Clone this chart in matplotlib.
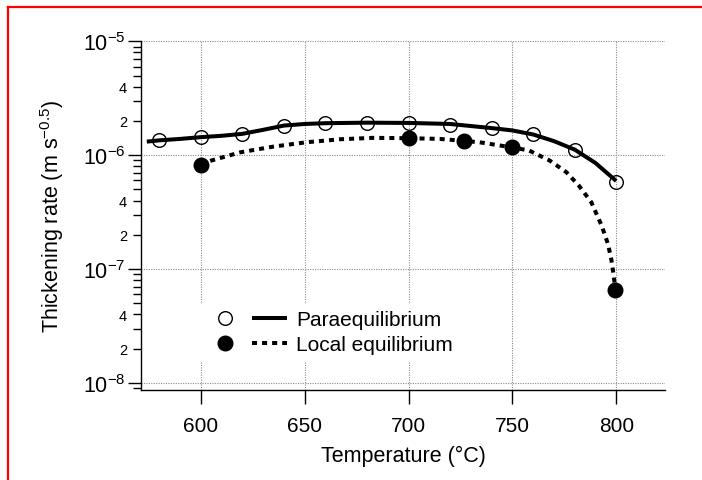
import matplotlib
matplotlib.use("Agg")
import matplotlib.pyplot as plt
from matplotlib.ticker import LogLocator, FixedLocator, FuncFormatter, NullLocator
from matplotlib.legend_handler import HandlerTuple
from matplotlib.lines import Line2D
import numpy as np

plt.rcParams['font.family'] = ['Liberation Sans', 'DejaVu Sans']
plt.rcParams['mathtext.fontset'] = 'custom'
plt.rcParams['mathtext.rm'] = 'Liberation Sans'
plt.rcParams['mathtext.it'] = 'Liberation Sans:italic'
plt.rcParams['mathtext.bf'] = 'Liberation Sans:bold'

# ---- data ----
para_T = [580, 600, 620, 640, 660, 680, 700, 720, 740, 760, 780, 800]
para_rate = [1.355e-6, 1.45e-6, 1.53e-6, 1.82e-6, 1.90e-6, 1.91e-6, 1.91e-6,
             1.85e-6, 1.73e-6, 1.53e-6, 1.12e-6, 5.8e-7]

para_fit_T = [574, 580, 590, 600, 610, 620, 630, 640, 650, 660, 680, 700, 720,
              740, 750, 760, 770, 780, 790, 800]
para_fit_rate = [1.316e-6, 1.35e-6, 1.39e-6, 1.44e-6, 1.48e-6, 1.54e-6, 1.67e-6,
                 1.82e-6, 1.88e-6, 1.91e-6, 1.93e-6, 1.92e-6, 1.88e-6, 1.73e-6,
                 1.65e-6, 1.52e-6, 1.33e-6, 1.12e-6, 8.55e-7, 5.94e-7]

local_T = [600, 700, 726.5, 750, 799.6]
local_rate = [8.28e-7, 1.41e-6, 1.33e-6, 1.17e-6, 6.49e-8]

local_fit_T = [600, 605, 619, 635, 651, 667, 683, 700, 715, 734, 750, 758, 768,
               776, 782, 788, 793, 796, 797.6, 798.8, 799.6]
local_fit_rate = [8.28e-7, 8.97e-7, 1.06e-6, 1.19e-6, 1.30e-6, 1.38e-6, 1.42e-6,
                  1.41e-6, 1.39e-6, 1.30e-6, 1.17e-6, 1.10e-6, 8.97e-7, 7.10e-7,
                  5.41e-7, 3.87e-7, 2.41e-7, 1.67e-7, 1.23e-7, 8.79e-8, 6.49e-8]

x_ticks = [600, 650, 700, 750, 800]
y_major = [1e-8, 1e-7, 1e-6, 1e-5]
y_major_labels = [r'$10^{-8}$', r'$10^{-7}$', r'$10^{-6}$', r'$10^{-5}$']

# ---- figure ----
fig = plt.figure(figsize=(7.02, 4.81), dpi=100)
ax = fig.add_axes([141/702, 1 - 391/481, (665-141)/702, (391-42.3)/481])

ax.set_yscale('log')
ax.set_xlim(571.2, 823.5)
ax.set_ylim(10**-8.0615, 1e-5)

lw = 2.9
ax.plot(para_fit_T, para_fit_rate, color='black', lw=lw, solid_capstyle='butt', zorder=3)
ax.plot(local_fit_T, local_fit_rate, color='black', lw=lw,
        linestyle=(0, (1.25, 1.25)), dash_capstyle='butt', zorder=3)
ax.plot(para_T, para_rate, linestyle='none', marker='o', ms=9.8,
        mfc='none', mec='black', mew=1.0, zorder=4)
ax.plot(local_T, local_rate, linestyle='none', marker='o', ms=10.5,
        mfc='black', mec='black', zorder=4)

# ticks
ax.xaxis.set_major_locator(FixedLocator(x_ticks))
ax.xaxis.set_minor_locator(NullLocator())
ax.yaxis.set_major_locator(FixedLocator(y_major))
ax.set_yticklabels(y_major_labels)
ax.yaxis.set_minor_locator(LogLocator(base=10, subs=np.arange(2, 10)))


def minor_fmt(v, pos):
    m = v / 10 ** np.floor(np.log10(v) + 1e-9)
    r = int(round(m))
    return str(r) if r in (2, 4) else ''


ax.yaxis.set_minor_formatter(FuncFormatter(minor_fmt))

ax.tick_params(axis='x', which='major', direction='out', length=10, width=1.0,
               labelsize=15, pad=9)
ax.tick_params(axis='y', which='major', direction='out', length=9.5, width=1.0,
               labelsize=15.5, pad=1.5)
ax.tick_params(axis='y', which='minor', direction='out', length=5.5, width=1.0,
               labelsize=10.5, pad=4.5)

for s in ('top', 'right'):
    ax.spines[s].set_visible(False)
for s in ('left', 'bottom'):
    ax.spines[s].set_linewidth(1.0)

ax.grid(True, which='major', axis='both', color='#8a8a8a', lw=0.8,
        linestyle=(0, (1, 1.2)), zorder=0)
ax.set_axisbelow(True)

ax.set_xlabel('Temperature (°C)', fontsize=15.5)
ax.xaxis.set_label_coords(0.5, (391 - 446) / 349)
ax.set_ylabel(r'Thickening rate (m s$^{-0.5}$)', fontsize=15.5)
ax.yaxis.set_label_coords((66 - 141) / 524, 0.5)

# legend
h_open = Line2D([], [], linestyle='none', marker='o', ms=9.8, mfc='none',
                mec='black', mew=1.0)
h_fill = Line2D([], [], linestyle='none', marker='o', ms=10.5, mfc='black',
                mec='black')
h_solid = Line2D([], [], color='black', lw=lw, solid_capstyle='butt')
h_dash = Line2D([], [], color='black', lw=lw, linestyle=(0, (1.25, 1.25)),
                dash_capstyle='butt')
fs_leg = 15
em = fs_leg * 100 / 72
leg = ax.legend([(h_open, h_solid), (h_fill, h_dash)],
                ['Paraequilibrium', 'Local equilibrium'],
                handler_map={tuple: HandlerTuple(ndivide=None, pad=9.5 / em)},
                loc='center left', bbox_to_anchor=(0.1126, 0.166),
                borderaxespad=0, borderpad=7.5 / em, handlelength=79.5 / em,
                handletextpad=9 / em, labelspacing=0.29, fontsize=fs_leg,
                frameon=True, fancybox=False, numpoints=1)
leg.get_frame().set_facecolor('white')
leg.get_frame().set_edgecolor('none')
leg.get_frame().set_alpha(1)

# red frame (top and left edges)
fig.add_artist(Line2D([8/702, 1], [1 - 7.5/481, 1 - 7.5/481], color='red', lw=1.6,
                      transform=fig.transFigure))
fig.add_artist(Line2D([8/702, 8/702], [0, 1 - 7.5/481], color='red', lw=1.6,
                      transform=fig.transFigure))

fig.savefig('out.png', dpi=100)
